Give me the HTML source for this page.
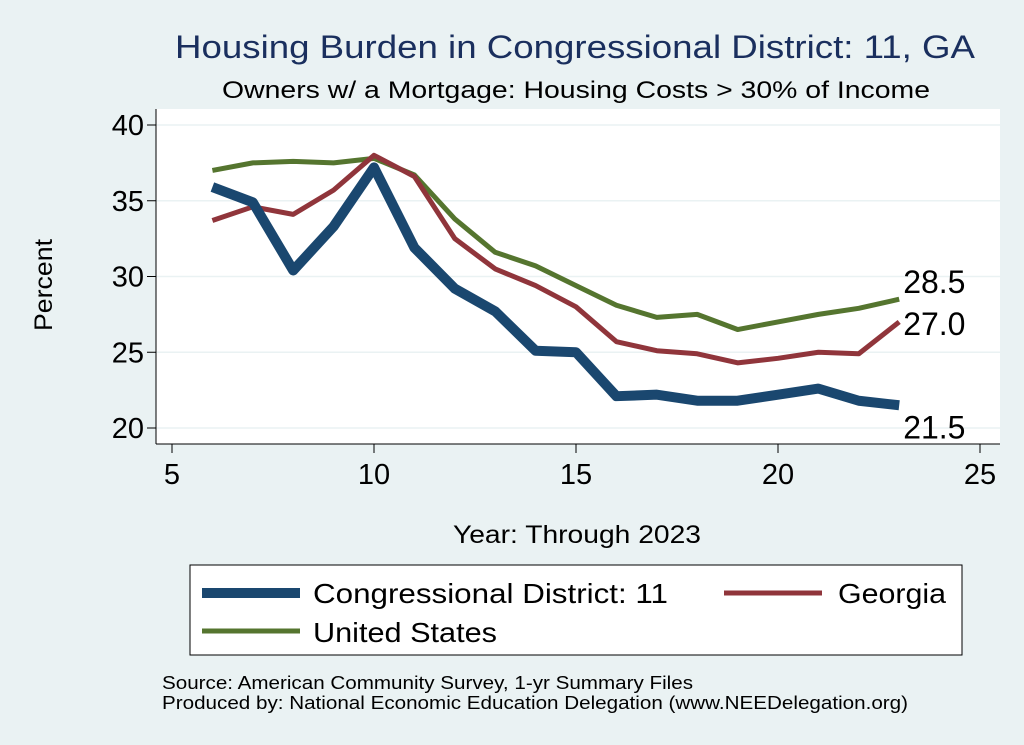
<!DOCTYPE html>
<html><head><meta charset="utf-8"><style>
body{margin:0;background:#eaf2f3;}
svg{display:block;font-family:"Liberation Sans",Arial,sans-serif;}
</style></head><body>
<svg width="1024" height="745" viewBox="0 0 1024 745" xml:space="preserve">
<rect x="0" y="0" width="1024" height="745" fill="#eaf2f3"/>
<text x="175" y="58" font-size="32" fill="#1a2f5e" textLength="800" lengthAdjust="spacingAndGlyphs">Housing Burden in Congressional District:  11, GA</text>
<text x="222" y="98" font-size="24" fill="#000" textLength="708" lengthAdjust="spacingAndGlyphs">Owners w/ a Mortgage: Housing Costs &gt; 30% of Income</text>
<rect x="156" y="109" width="844" height="335" fill="#fff"/>
<g id="grid"></g>
<g id="axes"></g>
<g id="series"></g>
<text x="52" y="285" text-anchor="middle" font-size="25" textLength="92" lengthAdjust="spacingAndGlyphs" transform="rotate(-90 52 285)">Percent</text>
<text x="453" y="543" font-size="25" textLength="248" lengthAdjust="spacingAndGlyphs">Year: Through 2023</text>
<g>
<rect x="190" y="565" width="772" height="90" fill="#fff" stroke="#000" stroke-width="1"/>
<line x1="202" y1="593" x2="300" y2="593" stroke="#1a476f" stroke-width="10"/>
<text x="313" y="603" font-size="28" textLength="355" lengthAdjust="spacingAndGlyphs">Congressional District:  11</text>
<line x1="724" y1="593" x2="822" y2="593" stroke="#90353b" stroke-width="5"/>
<text x="838" y="603" font-size="28" textLength="108" lengthAdjust="spacingAndGlyphs">Georgia</text>
<line x1="202" y1="631" x2="300" y2="631" stroke="#55752f" stroke-width="5"/>
<text x="313" y="642" font-size="28" textLength="184" lengthAdjust="spacingAndGlyphs">United States</text>
</g>
<text x="162" y="689" font-size="18" textLength="531" lengthAdjust="spacingAndGlyphs">Source: American Community Survey, 1-yr Summary Files</text>
<text x="162" y="709" font-size="18" textLength="746" lengthAdjust="spacingAndGlyphs">Produced by: National Economic Education Delegation (www.NEEDelegation.org)</text>
</svg>
<script>
const years=[6,7,8,9,10,11,12,13,14,15,16,17,18,19,20,21,22,23];
const district=[35.9,34.9,30.4,33.3,37.2,31.9,29.2,27.7,25.1,25.0,22.1,22.2,21.8,21.8,22.2,22.6,21.8,21.5];
const georgia=[33.7,34.6,34.1,35.7,38.0,36.6,32.5,30.5,29.4,28.0,25.7,25.1,24.9,24.3,24.6,25.0,24.9,27.0];
const us=[37.0,37.5,37.6,37.5,37.8,36.7,33.8,31.6,30.7,29.4,28.1,27.3,27.5,26.5,27.0,27.5,27.9,28.5];
const yTicks=[20,25,30,35,40];
const xTicks=[5,10,15,20,25];
const NS="http://www.w3.org/2000/svg";
function xs(v){return 172+(v-5)*40.4;}
function ys(v){return 428-(v-20)*15.15;}
function mk(tag,attrs,parent){const e=document.createElementNS(NS,tag);for(const k in attrs)e.setAttribute(k,attrs[k]);parent.appendChild(e);return e;}
const grid=document.getElementById('grid'),axes=document.getElementById('axes'),ser=document.getElementById('series');
yTicks.forEach(t=>{
 const g=mk('line',{x1:156,x2:1000,y1:ys(t),y2:ys(t),stroke:'#eaf2f3','stroke-width':1.5},grid);
 
 
 const tk=mk('line',{x1:147,x2:156,y1:ys(t),y2:ys(t),stroke:'#000','stroke-width':1},axes);
 
 
 const l=mk('text',{x:144,y:ys(t)+10,'text-anchor':'end','font-size':29},axes);
 l.textContent=t;
 
 
});
xTicks.forEach(t=>{
 const tk=mk('line',{x1:xs(t),x2:xs(t),y1:444,y2:453,stroke:'#000','stroke-width':1},axes);
 
 
 const l=mk('text',{x:xs(t),y:484,'text-anchor':'middle','font-size':29},axes);
 l.textContent=t;
 
 
});
const ya=mk('line',{x1:156,x2:156,y1:109,y2:444,stroke:'#000','stroke-width':1},axes);


const xa=mk('line',{x1:156,x2:1000,y1:444,y2:444,stroke:'#000','stroke-width':1},axes);


function line(vals,color,w,name){
 const p=mk('polyline',{points:vals.map((v,i)=>xs(years[i])+','+ys(v)).join(' '),fill:'none',stroke:color,'stroke-width':w,'stroke-linejoin':'round'},ser);
 
 
}
line(us,'#55752f',5,'line-united-states');
line(georgia,'#90353b',5,'line-georgia');
line(district,'#1a476f',10,'line-district');
const lx=xs(years[years.length-1]);
[[us,-6,'label-us'],[georgia,13,'label-georgia'],[district,33,'label-district']].forEach(([a,dy,n])=>{
 const v=a[a.length-1];
 const t=mk('text',{x:lx+4,y:ys(v)+dy,'font-size':32},ser);
 t.textContent=v.toFixed(1);
 
 
});
</script>
</body></html>
